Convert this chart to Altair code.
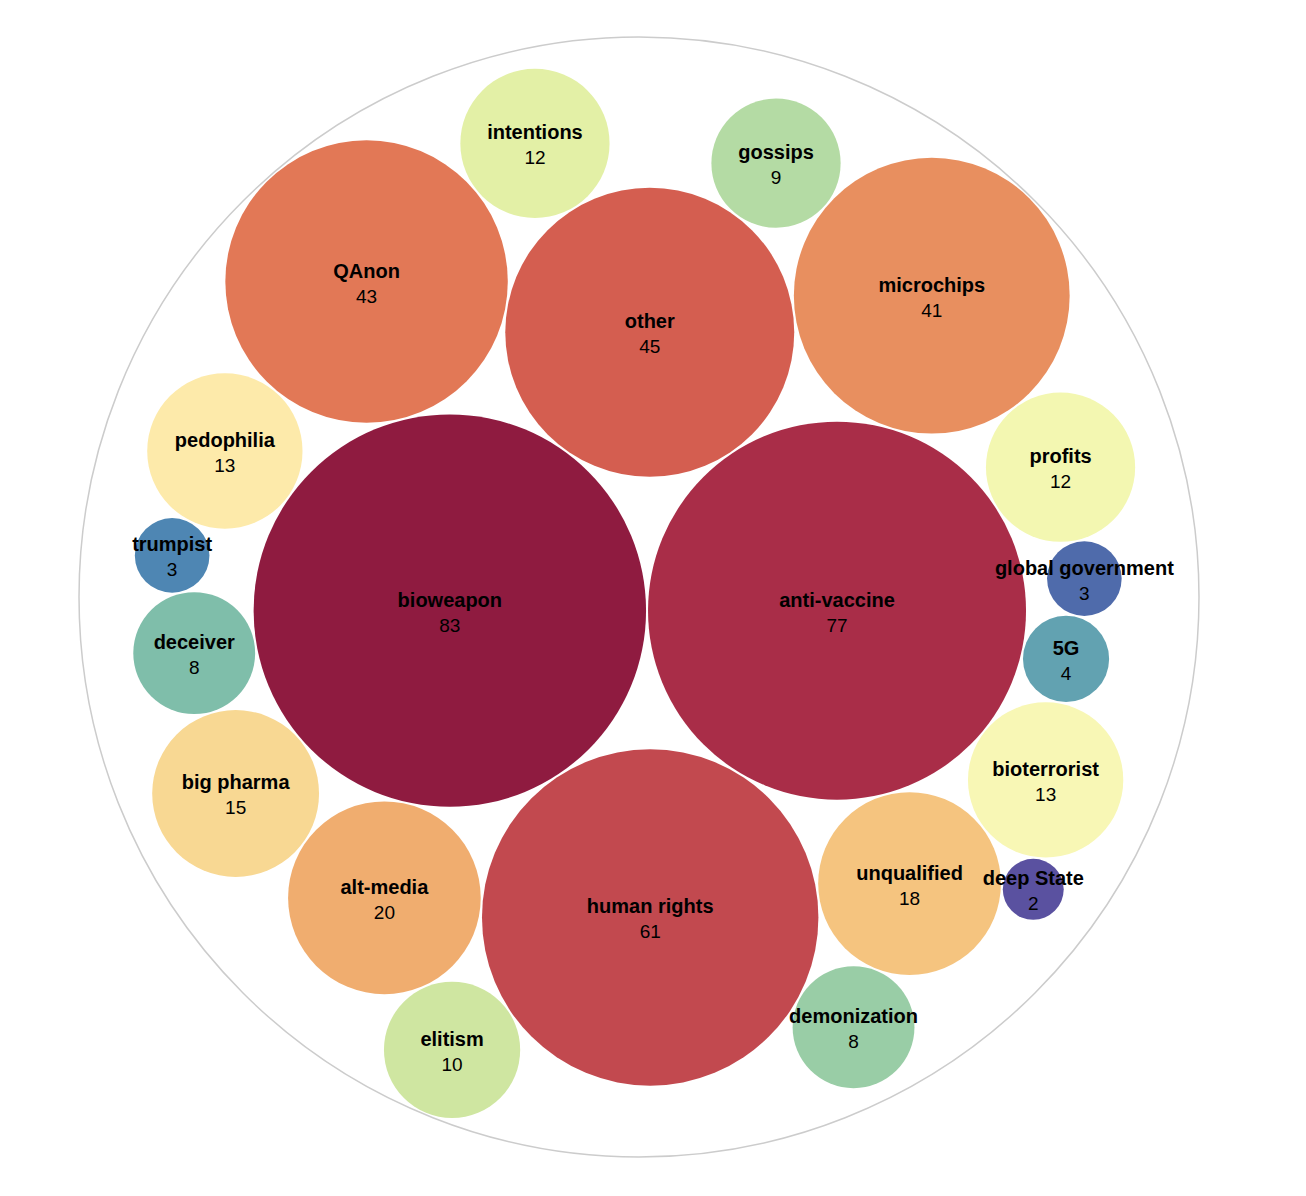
import math
import altair as alt
import pandas as pd

# ---- data ----
names = ["bioweapon", "anti-vaccine", "human rights", "other", "QAnon", "microchips",
         "alt-media", "unqualified", "big pharma", "pedophilia", "bioterrorist",
         "profits", "intentions", "elitism", "gossips", "demonization", "deceiver",
         "5G", "trumpist", "global government", "deep State"]
values = [83, 77, 61, 45, 43, 41, 20, 18, 15, 13, 13, 12, 12, 10, 9, 8, 8, 4, 3, 3, 2]
palette = ["#8f1b40", "#a92d48", "#c2494f", "#d45e50", "#e27856", "#e88f5f",
           "#f0ad6f", "#f5c47f", "#f8d893", "#fdeaaa", "#f8f7b5", "#f3f7b1",
           "#e3f0a6", "#cfe6a1", "#b4dba4", "#99cda6", "#7fbeaa", "#62a2b1",
           "#4e86b3", "#4f6bab", "#5a51a0"]

# ---- layout constants ----
W, H = 1290, 1180
CX, CY = 631, 589          # centre of the pack in plot coordinates
PACK = 1120                # diameter of the root circle
PAD = 2


# ---- d3-hierarchy circle packing (port) ----
class C:
    def __init__(self, r):
        self.x = 0.0
        self.y = 0.0
        self.r = r


class Node:
    def __init__(self, c):
        self.c = c
        self.next = None
        self.prev = None


def place(b, a, c):
    dx = b.x - a.x
    dy = b.y - a.y
    d2 = dx * dx + dy * dy
    if d2:
        a2 = (a.r + c.r) ** 2
        b2 = (b.r + c.r) ** 2
        if a2 > b2:
            x = (d2 + b2 - a2) / (2 * d2)
            y = math.sqrt(max(0.0, b2 / d2 - x * x))
            c.x = b.x - x * dx - y * dy
            c.y = b.y - x * dy + y * dx
        else:
            x = (d2 + a2 - b2) / (2 * d2)
            y = math.sqrt(max(0.0, a2 / d2 - x * x))
            c.x = a.x + x * dx - y * dy
            c.y = a.y + x * dy + y * dx
    else:
        c.x = a.x + c.r
        c.y = a.y


def intersects(a, b):
    dr = a.r + b.r - 1e-6
    dx = b.x - a.x
    dy = b.y - a.y
    return dr > 0 and dr * dr > dx * dx + dy * dy


def score(node):
    a = node.c
    b = node.next.c
    ab = a.r + b.r
    dx = (a.x * b.r + b.x * a.r) / ab
    dy = (a.y * b.r + b.y * a.r) / ab
    return dx * dx + dy * dy


def encloses_not(a, b):
    dr = a.r - b.r
    dx = b.x - a.x
    dy = b.y - a.y
    return dr < 0 or dr * dr < dx * dx + dy * dy


def encloses_weak(a, b):
    dr = a.r - b.r + max(a.r, b.r, 1) * 1e-9
    dx = b.x - a.x
    dy = b.y - a.y
    return dr > 0 and dr * dr > dx * dx + dy * dy


def encloses_weak_all(a, B):
    return all(encloses_weak(a, p) for p in B)


def basis1(a):
    c = C(a.r)
    c.x, c.y = a.x, a.y
    return c


def basis2(a, b):
    x21, y21, r21 = b.x - a.x, b.y - a.y, b.r - a.r
    l = math.sqrt(x21 * x21 + y21 * y21)
    c = C((l + a.r + b.r) / 2)
    c.x = (a.x + b.x + x21 / l * r21) / 2
    c.y = (a.y + b.y + y21 / l * r21) / 2
    return c


def basis3(a, b, c):
    x1, y1, r1 = a.x, a.y, a.r
    x2, y2, r2 = b.x, b.y, b.r
    x3, y3, r3 = c.x, c.y, c.r
    a2 = x1 - x2
    a3 = x1 - x3
    b2 = y1 - y2
    b3 = y1 - y3
    c2 = r2 - r1
    c3 = r3 - r1
    d1 = x1 * x1 + y1 * y1 - r1 * r1
    d2 = d1 - x2 * x2 - y2 * y2 + r2 * r2
    d3 = d1 - x3 * x3 - y3 * y3 + r3 * r3
    ab = a3 * b2 - a2 * b3
    xa = (b2 * d3 - b3 * d2) / (ab * 2) - x1
    xb = (b3 * c2 - b2 * c3) / ab
    ya = (a3 * d2 - a2 * d3) / (ab * 2) - y1
    yb = (a2 * c3 - a3 * c2) / ab
    A = xb * xb + yb * yb - 1
    Bq = 2 * (r1 + xa * xb + ya * yb)
    Cq = xa * xa + ya * ya - r1 * r1
    r = -((Bq + math.sqrt(Bq * Bq - 4 * A * Cq)) / (2 * A) if abs(A) > 1e-6 else Cq / Bq)
    out = C(r)
    out.x = x1 + xa + xb * r
    out.y = y1 + ya + yb * r
    return out


def basis(B):
    if len(B) == 1:
        return basis1(B[0])
    if len(B) == 2:
        return basis2(B[0], B[1])
    return basis3(B[0], B[1], B[2])


def extend_basis(B, p):
    if encloses_weak_all(p, B):
        return [p]
    for i in range(len(B)):
        if encloses_not(p, B[i]) and encloses_weak_all(basis2(B[i], p), B):
            return [B[i], p]
    for i in range(len(B) - 1):
        for j in range(i + 1, len(B)):
            if (encloses_not(basis2(B[i], B[j]), p)
                    and encloses_not(basis2(B[i], p), B[j])
                    and encloses_not(basis2(B[j], p), B[i])
                    and encloses_weak_all(basis3(B[i], B[j], p), B)):
                return [B[i], B[j], p]
    raise RuntimeError("enclose failed")


def enclose(circles):
    i, n, B, e = 0, len(circles), [], None
    while i < n:
        p = circles[i]
        if e is not None and encloses_weak(e, p):
            i += 1
        else:
            B = extend_basis(B, p)
            e = basis(B)
            i = 0
    return e


def pack_siblings(circles):
    n = len(circles)
    a = circles[0]
    a.x = a.y = 0.0
    b = circles[1]
    a.x = -b.r
    b.x = a.r
    b.y = 0.0
    c = circles[2]
    place(b, a, c)
    a, b, c = Node(a), Node(b), Node(c)
    a.next = c.prev = b
    b.next = a.prev = c
    c.next = b.prev = a
    i = 3
    while i < n:
        cc = circles[i]
        place(a.c, b.c, cc)
        cn = Node(cc)
        j, k, sj, sk = b.next, a.prev, b.c.r, a.c.r
        restart = False
        while True:
            if sj <= sk:
                if intersects(j.c, cn.c):
                    b = j
                    a.next = b
                    b.prev = a
                    restart = True
                    break
                sj += j.c.r
                j = j.next
            else:
                if intersects(k.c, cn.c):
                    a = k
                    a.next = b
                    b.prev = a
                    restart = True
                    break
                sk += k.c.r
                k = k.prev
            if j is k.next:
                break
        if restart:
            continue
        cn.prev = a
        cn.next = b
        a.next = cn
        b.prev = cn
        b = cn
        aa = score(a)
        cur = cn
        while True:
            cur = cur.next
            if cur is b:
                break
            ca = score(cur)
            if ca < aa:
                a = cur
                aa = ca
        b = a.next
        i += 1
    chain = [b.c]
    cur = b
    while True:
        cur = cur.next
        if cur is b:
            break
        chain.append(cur.c)
    e = enclose(chain)
    for cc in circles:
        cc.x -= e.x
        cc.y -= e.y
    return e.r


circles = [C(math.sqrt(v)) for v in values]
root_r1 = pack_siblings(circles)
k1 = root_r1 / PACK
rp = PAD * k1
for cc in circles:
    cc.r += rp
e2 = pack_siblings(circles)
for cc in circles:
    cc.r -= rp
root_r = e2 + rp
k2 = PACK / (2 * root_r)

df = pd.DataFrame({
    "name": names,
    "value": values,
    "x": [CX + cc.x * k2 for cc in circles],
    "y": [CY + cc.y * k2 for cc in circles],
    "size": [(2 * cc.r * k2) ** 2 for cc in circles],
})
root_df = pd.DataFrame({"x": [CX], "y": [CY], "size": [float(PACK) ** 2]})

xs = alt.X("x:Q", scale=alt.Scale(domain=[0, W], nice=False, zero=False), axis=None)
ys = alt.Y("y:Q", scale=alt.Scale(domain=[0, H], nice=False, zero=False, reverse=True), axis=None)

outer = alt.Chart(root_df).mark_point(
    shape="circle", filled=False, stroke="#cccccc", strokeWidth=1.5, opacity=1
).encode(x=xs, y=ys, size=alt.Size("size:Q", scale=None, legend=None))

bubbles = alt.Chart(df).mark_point(
    shape="circle", filled=True, opacity=1, strokeWidth=0
).encode(
    x=xs, y=ys,
    size=alt.Size("size:Q", scale=None, legend=None),
    color=alt.Color("name:N", scale=alt.Scale(domain=names, range=palette), legend=None),
)

labels = alt.Chart(df).mark_text(
    font="Liberation Sans", fontSize=20, fontWeight="bold", color="black",
    baseline="alphabetic", align="center", dy=-4
).encode(x=xs, y=ys, text="name:N")

nums = alt.Chart(df).mark_text(
    font="Liberation Sans", fontSize=19, color="black",
    baseline="alphabetic", align="center", dy=21
).encode(x=xs, y=ys, text="value:Q")

chart = alt.layer(outer, bubbles, labels, nums).properties(
    width=W, height=H, padding=0, autosize=alt.AutoSizeParams(type="none")
).configure_view(stroke="transparent")

chart.save("out.html", embed_options={"renderer": "svg", "actions": False})
